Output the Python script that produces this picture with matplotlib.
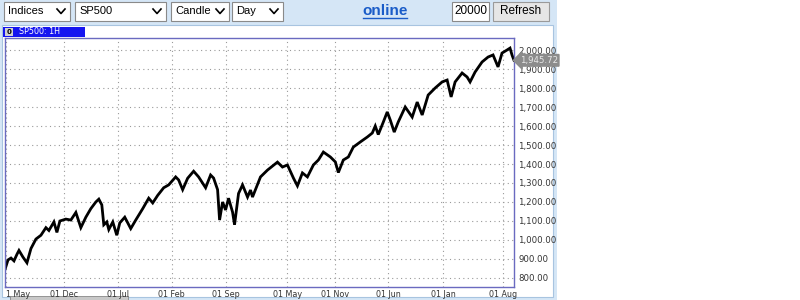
import matplotlib
matplotlib.use("Agg")
import matplotlib.pyplot as plt
from matplotlib.patches import Rectangle
from matplotlib.lines import Line2D
from matplotlib.ticker import FuncFormatter

# ---------------- data ----------------
bar_pos = [4, 7, 10, 13, 16, 18, 22, 26, 30, 35, 40, 45, 48, 53, 56, 59, 65, 70, 75, 80,
           85, 90, 95, 98, 101, 103, 106, 108, 112, 116, 119, 124, 127, 130, 135, 142, 148,
           152, 157, 163, 168, 175, 178, 182, 187, 193, 198, 205, 210, 213, 217, 219, 222,
           225, 228, 232, 234, 238, 242, 247, 250, 252, 260, 267, 277, 282, 287, 293, 297,
           302, 307, 313, 318, 323, 330, 335, 338, 343, 348, 353, 360, 367, 372, 375, 378,
           383, 387, 390, 394, 398, 405, 412, 417, 422, 428, 435, 442, 447, 451, 455, 462,
           467, 470, 475, 482, 488, 493, 498, 502, 507, 510, 512, 514]
close = [845, 895, 905, 890, 925, 945, 910, 880, 955, 1005, 1025, 1065, 1050, 1095, 1040,
         1100, 1110, 1105, 1145, 1065, 1120, 1165, 1200, 1215, 1185, 1080, 1095, 1055, 1095,
         1025, 1090, 1120, 1090, 1060, 1105, 1165, 1220, 1195, 1235, 1275, 1290, 1332, 1316,
         1265, 1325, 1362, 1332, 1275, 1342, 1326, 1265, 1105, 1200, 1158, 1220, 1147, 1080,
         1245, 1290, 1226, 1263, 1226, 1332, 1368, 1410, 1384, 1395, 1326, 1285, 1353, 1332,
         1395, 1421, 1463, 1437, 1411, 1355, 1421, 1437, 1489, 1516, 1542, 1563, 1600, 1555,
         1620, 1674, 1632, 1568, 1621, 1700, 1647, 1726, 1658, 1763, 1800, 1832, 1842, 1753,
         1832, 1879, 1858, 1832, 1884, 1937, 1963, 1974, 1911, 1984, 2000, 2010, 1974, 1945.72]
tick_pos = [5, 63, 117, 171, 225, 287, 335, 388, 443, 503]
tick_labels = ["1 May", "01 Dec", "01 Jul", "01 Feb", "01 Sep", "01 May", "01 Nov",
               "01 Jun", "01 Jan", "01 Aug"]
y_ticks = [800, 900, 1000, 1100, 1200, 1300, 1400, 1500, 1600, 1700, 1800, 1900, 2000]
last_price = 1945.72
symbol_title = "SP500: 1H"

# ---------------- figure ----------------
W, H = 800, 300
fig = plt.figure(figsize=(8, 3), dpi=100)
fig.patch.set_facecolor("white")

def fx(px):
    return px / W

def fy(py):
    return 1 - py / H

LB = "#D5E6F6"
fig.patches.append(Rectangle((0, 0), fx(557), 1, transform=fig.transFigure,
                             facecolor=LB, edgecolor="none", zorder=0))
fig.patches.append(Rectangle((fx(2), fy(297)), fx(551), fy(25) - fy(297),
                             transform=fig.transFigure, facecolor="white",
                             edgecolor="#A8C4E0", lw=0.8, zorder=1))
fig.patches.append(Rectangle((fx(10), fy(300)), fx(118), fy(296) - fy(300),
                             transform=fig.transFigure, facecolor="#C8C8C8",
                             edgecolor="#888888", lw=0.6, zorder=2))

def dropdown(x0, x1, label):
    fig.patches.append(Rectangle((fx(x0), fy(21)), fx(x1 - x0), fy(2) - fy(21),
                                 transform=fig.transFigure, facecolor="white",
                                 edgecolor="#8A8A8A", lw=0.8, zorder=3))
    fig.text(fx(x0 + 4), fy(11.5), label, fontsize=8, family="Liberation Sans",
             va="center", ha="left", color="black", zorder=4)
    cx = x1 - 9
    fig.lines.append(Line2D([fx(cx - 4), fx(cx), fx(cx + 4)], [fy(9), fy(13.5), fy(9)],
                            transform=fig.transFigure, color="black", lw=1.2, zorder=4))

dropdown(4, 70, "Indices")
dropdown(75, 166, "SP500")
dropdown(171, 229, "Candle")
dropdown(232, 283, "Day")

fig.text(fx(385), fy(11), "online", fontsize=11, fontweight="bold",
         family="Liberation Sans", color="#1A5CC8", ha="center", va="center", zorder=4)
fig.lines.append(Line2D([fx(363), fx(407)], [fy(18), fy(18)], transform=fig.transFigure,
                        color="#1A5CC8", lw=1.0, zorder=4))

fig.patches.append(Rectangle((fx(452), fy(21)), fx(37), fy(2) - fy(21),
                             transform=fig.transFigure, facecolor="white",
                             edgecolor="#8A8A8A", lw=0.8, zorder=3))
fig.text(fx(487), fy(11.5), "20000", fontsize=8.5, family="Liberation Sans",
         ha="right", va="center", zorder=4)
fig.patches.append(Rectangle((fx(493), fy(21)), fx(56), fy(2) - fy(21),
                             transform=fig.transFigure, facecolor="#E6E6E6",
                             edgecolor="#9A9A9A", lw=0.8, zorder=3))
fig.text(fx(521), fy(11.5), "Refresh", fontsize=8.5, family="Liberation Sans",
         ha="center", va="center", zorder=4)

# title tab
fig.patches.append(Rectangle((fx(3), fy(37)), fx(82), fy(27) - fy(37),
                             transform=fig.transFigure, facecolor="#1515F0",
                             edgecolor="none", zorder=3))
fig.patches.append(Rectangle((fx(5), fy(36)), fx(8), fy(28) - fy(36),
                             transform=fig.transFigure, facecolor="#D0D0D0",
                             edgecolor="none", zorder=4))
fig.text(fx(9), fy(32), "0", fontsize=5, fontweight="bold", ha="center", va="center",
         color="black", zorder=5)
fig.text(fx(19), fy(32), symbol_title, fontsize=5.8, ha="left", va="center",
         color="white", zorder=5)

# ---------------- axes ----------------
ax = fig.add_axes([fx(5), fy(287), fx(509), fy(38) - fy(287)])
ax.set_zorder(5)
ax.plot(bar_pos, close, color="black", lw=2.0, solid_joinstyle="miter")
ax.set_xlim(4, 514)
ax.set_ylim(752.6, 2063.2)

ax.set_yticks(y_ticks)
ax.yaxis.set_major_formatter(FuncFormatter(lambda v, p: f"{v:,.2f}"))
ax.yaxis.tick_right()
ax.tick_params(axis="y", length=0, pad=3, labelsize=6.2, labelcolor="#333333")
ax.set_xticks(tick_pos)
ax.set_xticklabels(tick_labels)
ax.tick_params(axis="x", length=0, pad=2, labelsize=5.8, labelcolor="#333333")
first = ax.get_xticklabels()[0]
first.set_ha("left")

ax.grid(True, color="#9A9A9A", linestyle=(0, (1, 3)), lw=0.8)
for s in ax.spines.values():
    s.set_color("#6A6AC0")
    s.set_linewidth(1.0)

ax.annotate(f"{last_price:,.2f}", xy=(1.0, last_price), xycoords=("axes fraction", "data"),
            xytext=(4, 0), textcoords="offset points", fontsize=6.2, color="#E8E8E8",
            ha="left", va="center", annotation_clip=False,
            bbox=dict(boxstyle="larrow,pad=0.15", fc="#8C8C8C", ec="#8C8C8C"))

fig.savefig("out.png", dpi=100, facecolor=fig.get_facecolor())
